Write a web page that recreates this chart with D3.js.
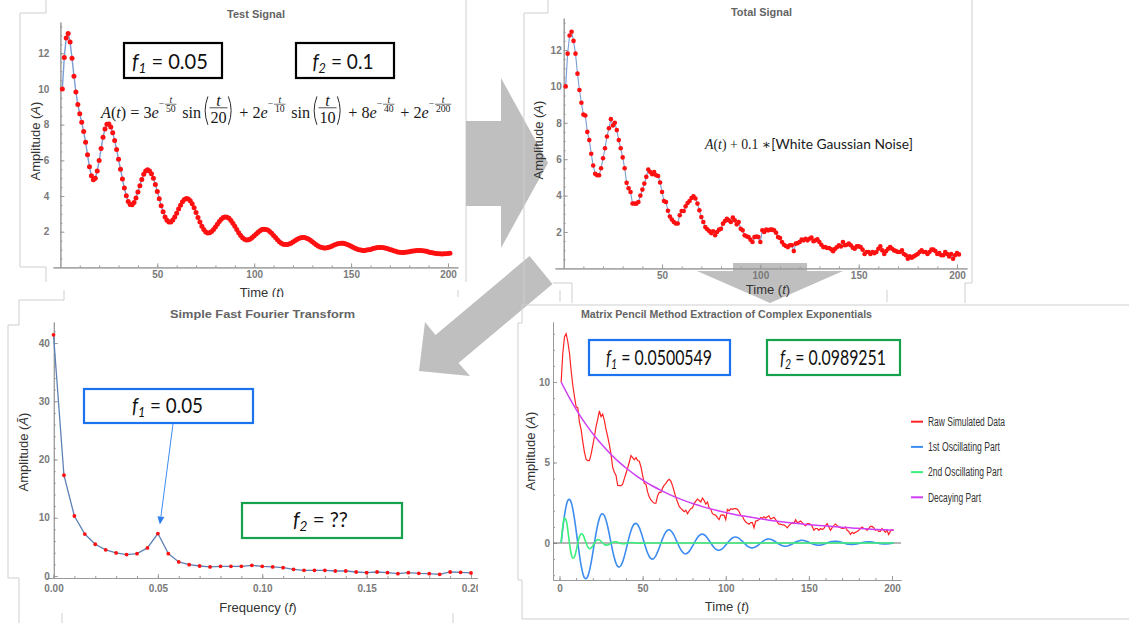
<!DOCTYPE html>
<html>
<head>
<meta charset="utf-8">
<script src="https://cdn.jsdelivr.net/npm/d3@7"></script>
<style>
  body { margin: 0; background: #fff; }
  svg { display: block; }
</style>
</head>
<body>
<script>
// ---------- data ----------
// test signal A(t), t = 0..200
var testSignal = [10.00,11.77,12.86,13.11,12.64,11.72,10.72,9.83,9.13,8.61,
  8.13,7.62,7.01,6.31,5.64,5.13,4.91,5.00,5.40,5.99,
  6.66,7.29,7.76,8.02,8.04,7.87,7.55,7.11,6.61,6.06,
  5.50,4.96,4.45,4.02,3.70,3.52,3.51,3.64,3.89,4.22,
  4.58,4.93,5.22,5.40,5.47,5.41,5.25,4.99,4.65,4.26,
  3.85,3.46,3.12,2.83,2.64,2.54,2.55,2.65,2.82,3.03,
  3.27,3.49,3.68,3.81,3.86,3.84,3.74,3.57,3.34,3.08,
  2.80,2.54,2.30,2.12,1.99,1.93,1.94,2.01,2.12,2.27,
  2.42,2.57,2.70,2.79,2.83,2.81,2.75,2.63,2.48,2.30,
  2.12,1.94,1.79,1.66,1.58,1.54,1.55,1.59,1.67,1.77,
  1.87,1.97,2.06,2.12,2.14,2.13,2.09,2.01,1.91,1.79,
  1.67,1.55,1.44,1.36,1.30,1.28,1.28,1.31,1.36,1.43,
  1.50,1.56,1.62,1.66,1.68,1.67,1.64,1.59,1.52,1.44,
  1.35,1.27,1.20,1.15,1.11,1.09,1.09,1.11,1.15,1.19,
  1.24,1.28,1.32,1.34,1.35,1.35,1.33,1.29,1.24,1.19,
  1.13,1.08,1.03,0.99,0.97,0.95,0.95,0.97,0.99,1.01,
  1.05,1.07,1.10,1.12,1.12,1.12,1.10,1.08,1.05,1.01,
  0.97,0.93,0.90,0.87,0.85,0.84,0.84,0.85,0.87,0.88,
  0.90,0.92,0.94,0.95,0.95,0.95,0.93,0.92,0.90,0.87,
  0.84,0.82,0.79,0.78,0.76,0.76,0.75,0.76,0.77,0.78,
  0.79];

// total signal (with noise), t = 0..200
var noisySignal = [10.0,11.8,12.8,13.0,12.5,11.8,10.7,9.8,9.1,8.45,
  8.4,7.5,7.05,6.3,5.65,5.2,5.12,5.12,5.5,6.05,
  6.6,7.25,7.7,8.2,7.85,8.0,7.6,7.05,6.6,6.1,
  5.5,4.7,4.4,4.2,3.57,3.56,3.56,3.65,4.0,4.33,
  4.66,5.03,5.43,5.3,5.17,5.3,5.12,5.08,4.72,4.2,
  3.7,3.65,3.17,2.85,2.68,2.55,2.47,2.47,2.92,3.15,
  3.15,3.41,3.59,3.7,3.87,3.96,3.84,3.56,3.19,2.82,
  2.55,2.27,2.15,2.05,1.94,2.04,1.82,2.0,2.13,2.18,
  2.46,2.6,2.73,2.64,2.55,2.79,2.64,2.42,2.55,2.18,
  2.09,1.82,1.76,1.72,1.58,1.45,1.72,1.75,1.72,1.45,
  2.09,2.0,2.13,2.09,2.13,2.13,2.09,1.96,1.72,1.67,
  1.45,1.3,1.23,1.17,1.27,1.27,0.95,1.36,1.39,1.45,
  1.58,1.54,1.63,1.54,1.63,1.69,1.49,1.54,1.6,1.45,
  1.3,1.17,1.17,1.12,1.12,1.05,0.94,1.08,1.17,1.27,
  1.2,1.45,1.27,1.3,1.36,1.27,1.14,1.08,1.21,1.21,
  1.17,1.03,0.79,0.9,0.9,0.79,0.9,0.84,0.9,1.08,
  1.21,0.99,0.79,0.95,1.08,1.17,1.08,0.99,0.95,0.9,
  0.9,0.99,0.79,0.72,0.53,0.66,0.59,0.66,0.72,0.79,
  0.9,0.99,0.9,0.9,0.79,0.9,1.03,1.03,0.95,0.79,
  0.84,0.72,0.72,0.9,0.79,0.66,0.79,0.53,0.72,0.84,
  0.77];

// FFT amplitude, f = 0, 0.005, ... 0.2
var fftStep = 0.005;
var fftAmp = [41.4,17.3,10.3,7.2,5.45,4.5,3.96,3.67,3.84,4.82,
  7.29,3.84,2.41,1.95,1.72,1.55,1.66,1.66,1.66,1.84,
  1.66,1.55,1.43,1.15,0.98,0.98,0.98,0.86,0.86,0.69,
  0.57,0.69,0.57,0.4,0.57,0.46,0.4,0.29,0.69,0.63,
  0.52];

// matrix pencil components
var decayStep = 5;   // decaying part, t = 0, 5, ... 200
var decayPart = [10.00,9.01,8.13,7.35,6.66,6.05,5.50,5.01,4.58,4.19,
  3.85,3.54,3.27,3.02,2.80,2.60,2.42,2.26,2.12,1.99,
  1.87,1.76,1.67,1.58,1.50,1.42,1.35,1.29,1.24,1.18,
  1.13,1.09,1.05,1.01,0.97,0.93,0.90,0.87,0.84,0.82,
  0.79];
// 1st oscillating part, t = 0..200
var osc1Part = [0,0.91,1.70,2.29,2.64,2.71,2.53,2.11,1.50,0.77,
  0,-0.74,-1.39,-1.87,-2.16,-2.22,-2.07,-1.73,-1.23,-0.63,
  0,0.61,1.14,1.53,1.77,1.82,1.70,1.41,1.01,0.52,
  0,-0.50,-0.93,-1.26,-1.45,-1.49,-1.39,-1.16,-0.83,-0.43,
  0,0.41,0.76,1.03,1.18,1.22,1.14,0.95,0.68,0.35,
  0,-0.33,-0.62,-0.84,-0.97,-1.00,-0.93,-0.78,-0.55,-0.29,
  0,0.27,0.51,0.69,0.79,0.82,0.76,0.64,0.45,0.23,
  0,-0.22,-0.42,-0.56,-0.65,-0.67,-0.62,-0.52,-0.37,-0.19,
  0,0.18,0.34,0.46,0.53,0.55,0.51,0.43,0.30,0.16,
  0,-0.15,-0.28,-0.38,-0.44,-0.45,-0.42,-0.35,-0.25,-0.13,
  0,0.12,0.23,0.31,0.36,0.37,0.34,0.29,0.20,0.11,
  0,-0.10,-0.19,-0.25,-0.29,-0.30,-0.28,-0.23,-0.17,-0.09,
  0,0.08,0.15,0.21,0.24,0.25,0.23,0.19,0.14,0.07,
  0,-0.07,-0.13,-0.17,-0.20,-0.20,-0.19,-0.16,-0.11,-0.06,
  0,0.06,0.10,0.14,0.16,0.17,0.15,0.13,0.09,0.05,
  0,-0.05,-0.08,-0.11,-0.13,-0.14,-0.13,-0.11,-0.08,-0.04,
  0,0.04,0.07,0.09,0.11,0.11,0.10,0.09,0.06,0.03,
  0,-0.03,-0.06,-0.08,-0.09,-0.09,-0.08,-0.07,-0.05,-0.03,
  0,0.03,0.05,0.06,0.07,0.07,0.07,0.06,0.04,0.02,
  0,-0.02,-0.04,-0.05,-0.06,-0.06,-0.06,-0.05,-0.03,-0.02,
  0];
// 2nd oscillating part, t = 0..50, flat zero afterwards up to osc2End
var osc2Part = [0,1.06,1.56,1.41,0.79,0,-0.65,-0.95,-0.86,-0.48,
  0,0.39,0.57,0.52,0.29,0,-0.24,-0.35,-0.31,-0.18,
  0,0.14,0.21,0.19,0.11,0,-0.09,-0.13,-0.12,-0.07,
  0,0.05,0.08,0.07,0.04,0,-0.03,-0.05,-0.04,-0.02,
  0,0.02,0.03,0.03,0.01,0,-0.01,-0.02,-0.02,-0.01,
  0];
var osc2End = 200;

var timeTicks = [50, 100, 150, 200];
var timeTicksMpm = [0, 50, 100, 150, 200];
var ampTicks = [2, 4, 6, 8, 10, 12];
var fftTicksX = [0, 0.05, 0.1, 0.15, 0.2];
var fftTicksY = [0, 10, 20, 30, 40];
var mpmTicksY = [0, 5, 10];
var legendNames = ["Raw Simulated Data", "1st Oscillating Part", "2nd Oscillating Part", "Decaying Part"];
var legendColors = ["#ff2323", "#3d8cf0", "#3cf07c", "#cf3ef5"];
var freqTrue = ["0.05", "0.1"];
var freqFft = ["0.05", "??"];
var freqMpm = ["0.0500549", "0.0989251"];

// ---------- setup ----------
var sans = "'Liberation Sans', Arial, sans-serif";
var serif = "'Liberation Serif', 'DejaVu Serif', serif";
var boxFont = "Lato, 'Open Sans', sans-serif";
var axisGray = "#9a9a9a", tickGray = "#7a7a7a", frameGray = "#cfcfcf", arrowGray = "#bfbfbf";
var dotRed = "#ff1010", lineBlue = "#7a9dd4";
var blueBox = "#1d72f0", greenBox = "#16a24c";

var svg = d3.select("body").append("svg").attr("width", 1129).attr("height", 623);

function frames(paths) {
  paths.forEach(function (p) {
    svg.append("path").attr("d", p).attr("fill", "none").attr("stroke", frameGray).attr("stroke-width", 1);
  });
}

function axes(g, o) {
  var xa = o.x.copy().domain([o.x.invert(o.xr[0]), o.x.invert(o.xr[1])]).range(o.xr);
  var ya = o.y.copy().domain([o.y.invert(o.yr[0]), o.y.invert(o.yr[1])]).range(o.yr);
  function look(sel) {
    sel.select(".domain").attr("stroke", axisGray);
    sel.selectAll(".tick line").attr("stroke", axisGray);
    sel.selectAll("text").attr("fill", tickGray).attr("font-weight", "bold")
      .attr("font-family", sans).attr("font-size", 10);
  }
  g.append("g").attr("transform", "translate(0," + o.xAt + ")")
    .call(d3.axisBottom(xa).tickValues(o.xMinor).tickSize(-2).tickSizeOuter(0).tickFormat(""))
    .call(look);
  g.append("g").attr("transform", "translate(0," + o.xAt + ")")
    .call(d3.axisBottom(xa).tickValues(o.xTicks).tickSize(-4).tickSizeOuter(0)
      .tickPadding(o.xPad).tickFormat(o.xFmt || d3.format("d")))
    .call(look);
  g.append("g").attr("transform", "translate(" + o.yAt + ",0)")
    .call(d3.axisLeft(ya).tickValues(o.yMinor).tickSize(-2).tickSizeOuter(0).tickFormat(""))
    .call(look);
  g.append("g").attr("transform", "translate(" + o.yAt + ",0)")
    .call(d3.axisLeft(ya).tickValues(o.yTicks).tickSize(-4).tickSizeOuter(0)
      .tickPadding(o.yPad).tickFormat(d3.format("d")))
    .call(look);
}

function title(g, txt, cx, y, w) {
  g.append("text").attr("x", cx - w / 2).attr("y", y).attr("font-family", sans)
    .attr("font-weight", "bold").attr("font-size", 11.5).attr("fill", "#646464")
    .attr("textLength", w).attr("lengthAdjust", "spacingAndGlyphs").text(txt);
}

function label(g, before, ital, cx, cy, rotate) {
  var t = g.append("text").attr("font-family", sans).attr("font-size", 13).attr("fill", "#333")
    .attr("text-anchor", "middle");
  t.append("tspan").text(before + "(");
  t.append("tspan").attr("font-style", "italic").text(ital);
  t.append("tspan").text(")");
  if (rotate) t.attr("transform", "translate(" + (cx + 5) + "," + cy + ") rotate(-90)");
  else t.attr("x", cx).attr("y", cy);
}

function fBox(g, b) {
  g.append("rect").attr("x", b.x).attr("y", b.y).attr("width", b.w).attr("height", b.h)
    .attr("fill", "none").attr("stroke", b.c).attr("stroke-width", 2.2);
  var t = g.append("text").attr("font-family", boxFont).attr("font-size", 21).attr("fill", "#111");
  t.append("tspan").attr("font-style", "italic").text("f");
  t.append("tspan").attr("font-style", "italic").attr("font-size", 14).attr("dy", 4).text(b.sub);
  t.append("tspan").attr("dy", -4).text("\u00a0=\u00a0" + b.val);
  var len = t.node().getComputedTextLength();
  t.attr("transform", "translate(" + (b.cx - b.tw / 2) + "," + b.base + ") scale(" + (b.tw / len) + ",1)");
}

// small typesetter for the formula lines
function mathLine(g, parts, S) {
  var x = 0;
  function txt(s, xx, y, size, it, fam) {
    var t = g.append("text").attr("x", xx).attr("y", y).attr("font-size", size)
      .attr("font-family", fam || serif).attr("fill", "#1a1a1a").text(s);
    if (it) t.attr("font-style", "italic");
    return t;
  }
  function w(t) { return t.node().getComputedTextLength(); }
  parts.forEach(function (p) {
    if (p.t != null) {
      x += w(txt(p.t, x, 0, S, p.i, p.f));
    } else if (p.sup) {
      var s = S * 0.6, bar = -S * 0.82;
      x += w(txt("\u2212", x, bar + s * 0.3, s)) + 1;
      var n = txt(p.sup[0], 0, bar - 1.5, s, true), d = txt(p.sup[1], 0, bar + s * 0.8, s);
      var fw = Math.max(w(n), w(d)) + 2;
      n.attr("x", x + fw / 2).attr("text-anchor", "middle");
      d.attr("x", x + fw / 2).attr("text-anchor", "middle");
      g.append("line").attr("x1", x).attr("x2", x + fw).attr("y1", bar).attr("y2", bar)
        .attr("stroke", "#1a1a1a").attr("stroke-width", 0.7);
      x += fw + 2;
    } else if (p.frac) {
      var b2 = -S * 0.6, top = b2 - S * 0.7, bot = b2 + S * 1.05, mid = (top + bot) / 2;
      x += 3;
      g.append("path").attr("d", "M" + (x + 5) + "," + top + "Q" + (x - 1.5) + "," + mid + " " + (x + 5) + "," + bot)
        .attr("fill", "none").attr("stroke", "#1a1a1a").attr("stroke-width", 1.1);
      x += 7;
      var n2 = txt(p.frac[0], 0, b2 - 2.5, S, true), d2 = txt(p.frac[1], 0, b2 + S * 0.92, S);
      var fw2 = Math.max(w(n2), w(d2)) + 2;
      n2.attr("x", x + fw2 / 2).attr("text-anchor", "middle");
      d2.attr("x", x + fw2 / 2).attr("text-anchor", "middle");
      g.append("line").attr("x1", x).attr("x2", x + fw2).attr("y1", b2).attr("y2", b2)
        .attr("stroke", "#1a1a1a").attr("stroke-width", 0.9);
      x += fw2 + 1;
      g.append("path").attr("d", "M" + x + "," + top + "Q" + (x + 6.5) + "," + mid + " " + x + "," + bot)
        .attr("fill", "none").attr("stroke", "#1a1a1a").attr("stroke-width", 1.1);
      x += 8;
    }
  });
  return x;
}
function placeMath(parent, parts, S, x0, x1, base) {
  var g = parent.append("g");
  var len = mathLine(g, parts, S);
  g.attr("transform", "translate(" + x0 + "," + base + ") scale(" + ((x1 - x0) / len) + ")");
}

// ---------- panel 1 : test signal ----------
frames(["M46,0V13H20V267H46V282", "M466,0V282"]);
var p1 = svg.append("g");
var x1 = d3.scaleLinear().domain([0, 200]).range([60.4, 448]);
var y1 = d3.scaleLinear().domain([0, 12]).range([267.4, 53.3]);
axes(p1, { x: x1, y: y1, xr: [53, 458], yr: [267.4, 22], xAt: 267.4, yAt: 60.4,
  xTicks: timeTicks, xMinor: d3.range(10, 201, 10), yTicks: ampTicks, yMinor: d3.range(0.5, 13.6, 0.5),
  xPad: 4, yPad: 11 });
p1.append("path").datum(testSignal)
  .attr("d", d3.line().x(function (d, i) { return x1(i + 1); }).y(function (d) { return y1(d); }))
  .attr("fill", "none").attr("stroke", lineBlue).attr("stroke-width", 1.4);
p1.append("g").selectAll("circle").data(testSignal).join("circle")
  .attr("cx", function (d, i) { return x1(i + 1); })
  .attr("cy", function (d) { return y1(d); })
  .attr("r", 2.5).attr("fill", dotRed);
title(p1, "Test Signal", 256, 18, 58);
label(p1, "Amplitude ", "A", 35, 141, true);
label(p1, "Time ", "t", 262, 297, false);
fBox(p1, { x: 124, y: 43, w: 98, h: 35, c: "#000", sub: "1", val: freqTrue[0], cx: 170, base: 68.5, tw: 76 });
fBox(p1, { x: 296, y: 43, w: 98, h: 35, c: "#000", sub: "2", val: freqTrue[1], cx: 343, base: 68.5, tw: 61 });
placeMath(p1, [{ t: "A", i: 1 }, { t: "(" }, { t: "t", i: 1 }, { t: ")\u00a0=\u00a03" }, { t: "e", i: 1 },
  { sup: ["t", "50"] }, { t: "\u00a0sin" }, { frac: ["t", "20"] }, { t: "\u00a0+\u00a02" }, { t: "e", i: 1 },
  { sup: ["t", "10"] }, { t: "\u00a0sin" }, { frac: ["t", "10"] }, { t: "\u00a0+\u00a08" }, { t: "e", i: 1 },
  { sup: ["t", "40"] }, { t: "\u00a0+\u00a02" }, { t: "e", i: 1 }, { sup: ["t", "200"] }], 19, 101, 453, 117.5);

// panel 3 background hides the bottom of panel 1
svg.append("rect").attr("x", 0).attr("y", 297).attr("width", 482).attr("height", 326).attr("fill", "#fff");

// ---------- arrows ----------
var arrows = [
  [[466, 121], [501, 121], [501, 78], [548, 163], [501, 248], [501, 206], [466, 206]],
  [[733, 263], [807, 263], [807, 271], [843, 271], [770, 303], [697, 271], [733, 271]],
  [[529.5, 256], [552.5, 284], [458.5, 363], [470, 376], [419, 371], [425, 322], [435.5, 335]]
];
arrows.forEach(function (pts) {
  svg.append("polygon").attr("points", pts.map(function (p) { return p.join(","); }).join(" "))
    .attr("fill", arrowGray);
});

frames(["M548,0V13H524V303", "M972,0V283H965V303", "M553,283H572V303",
  "M64,290V300H19V325H8V578H19V623", "M62,613V623", "M453,613V623", "M458,290V297",
  "M1129,305H522V323H518V580H522V619H1129", "M560,290V302", "M887,290V302"]);

// ---------- panel 2 : total signal ----------
var p2 = svg.append("g");
var x2 = d3.scaleLinear().domain([0, 200]).range([563.7, 957]);
var y2 = d3.scaleLinear().domain([0, 12]).range([268.4, 50]);
axes(p2, { x: x2, y: y2, xr: [555, 967], yr: [268.4, 18], xAt: 268.4, yAt: 563.7,
  xTicks: timeTicks, xMinor: d3.range(10, 201, 10), yTicks: ampTicks, yMinor: d3.range(0.5, 13.6, 0.5),
  xPad: 4, yPad: 2 });
p2.append("path").datum(noisySignal)
  .attr("d", d3.line().x(function (d, i) { return x2(i + 1); }).y(function (d) { return y2(d); }))
  .attr("fill", "none").attr("stroke", lineBlue).attr("stroke-width", 1.1);
p2.append("g").selectAll("circle").data(noisySignal).join("circle")
  .attr("cx", function (d, i) { return x2(i + 1); })
  .attr("cy", function (d) { return y2(d); })
  .attr("r", 2.3).attr("fill", dotRed);
title(p2, "Total Signal", 761.5, 16, 61);
label(p2, "Amplitude ", "A", 538, 140, true);
label(p2, "Time ", "t", 768, 294, false);
placeMath(p2, [{ t: "A", i: 1 }, { t: "(" }, { t: "t", i: 1 }, { t: ")\u00a0+\u00a00.1\u00a0\u2217" },
  { t: "[White Gaussian Noise]", f: boxFont }], 16, 705, 913, 149);

// ---------- panel 3 : FFT ----------
svg.append("clipPath").attr("id", "clip3").append("rect")
  .attr("x", 0).attr("y", 297).attr("width", 478).attr("height", 326);
var p3 = svg.append("g").attr("clip-path", "url(#clip3)");
var x3 = d3.scaleLinear().domain([0, 0.2]).range([53.5, 471]);
var y3 = d3.scaleLinear().domain([0, 40]).range([576, 343]);
axes(p3, { x: x3, y: y3, xr: [47, 490], yr: [578, 322], xAt: 578, yAt: 53.8,
  xTicks: fftTicksX, xMinor: d3.range(0, 0.2001, 0.01), yTicks: fftTicksY, yMinor: d3.range(0, 44, 2),
  xPad: 7, yPad: 4, xFmt: d3.format(".2f") });
p3.append("path").datum(fftAmp)
  .attr("d", d3.line().x(function (d, i) { return x3(i * fftStep); }).y(function (d) { return y3(d); }))
  .attr("fill", "none").attr("stroke", "#5e81b5").attr("stroke-width", 1.3);
p3.append("g").selectAll("circle").data(fftAmp).join("circle")
  .attr("cx", function (d, i) { return x3(i * fftStep); })
  .attr("cy", function (d) { return y3(d); })
  .attr("r", 1.9).attr("fill", dotRed);
title(p3, "Simple Fast Fourier Transform", 262.5, 318, 185);
label(p3, "Amplitude ", "\u00c3", 23, 452, true);
label(p3, "Frequency ", "f", 258, 612, false);
fBox(p3, { x: 84, y: 389, w: 169, h: 34, c: blueBox, sub: "1", val: freqFft[0], cx: 167.5, base: 413, tw: 71 });
fBox(p3, { x: 242, y: 503, w: 160, h: 35, c: greenBox, sub: "2", val: freqFft[1], cx: 320.5, base: 527, tw: 55 });
// pointer from the f1 box to the FFT peak
(function () {
  var ax = 173, ay = 424, tx = x3(fftTicksX[1]) + 2, ty = y3(fftAmp[10]) - 9;
  var dx = tx - ax, dy = ty - ay, L = Math.sqrt(dx * dx + dy * dy), ux = dx / L, uy = dy / L;
  var bx = tx - ux * 8, by = ty - uy * 8;
  p3.append("line").attr("x1", ax).attr("y1", ay).attr("x2", bx).attr("y2", by)
    .attr("stroke", "#3d8cf0").attr("stroke-width", 1);
  p3.append("polygon").attr("points", [[tx, ty], [bx + uy * 3.5, by - ux * 3.5], [bx - uy * 3.5, by + ux * 3.5]]
    .map(function (p) { return p.join(","); }).join(" ")).attr("fill", "#2f7ff0");
})();

// ---------- panel 4 : matrix pencil ----------
var p4 = svg.append("g");
var x4 = d3.scaleLinear().domain([0, 200]).range([559.5, 892]);
var y4 = d3.scaleLinear().domain([0, 10]).range([543, 382]);
axes(p4, { x: x4, y: y4, xr: [553, 901], yr: [580, 322], xAt: 580, yAt: 553,
  xTicks: timeTicksMpm, xMinor: d3.range(0, 201, 10), yTicks: mpmTicksY, yMinor: d3.range(-2, 14, 1),
  xPad: 5, yPad: 3 });
p4.append("line").attr("x1", 553).attr("x2", 901).attr("y1", y4(0)).attr("y2", y4(0))
  .attr("stroke", "#6e6e6e").attr("stroke-width", 1);
var lineT = function (step, curve) {
  return d3.line().curve(curve || d3.curveLinear)
    .x(function (d, i) { return x4(i * step + 1); }).y(function (d) { return y4(d); });
};
p4.append("path").datum(noisySignal).attr("d", lineT(1))
  .attr("fill", "none").attr("stroke", legendColors[0]).attr("stroke-width", 1.2);
p4.append("path").datum(osc1Part).attr("d", lineT(1, d3.curveCatmullRom))
  .attr("fill", "none").attr("stroke", legendColors[1]).attr("stroke-width", 1.6);
p4.append("path").datum(osc2Part).attr("d", lineT(1, d3.curveCatmullRom))
  .attr("fill", "none").attr("stroke", legendColors[2]).attr("stroke-width", 1.6);
p4.append("line").attr("x1", x4(osc2Part.length)).attr("x2", x4(osc2End + 1))
  .attr("y1", y4(0)).attr("y2", y4(0)).attr("stroke", legendColors[2]).attr("stroke-width", 1.6);
p4.append("path").datum(decayPart).attr("d", lineT(decayStep, d3.curveCatmullRom))
  .attr("fill", "none").attr("stroke", legendColors[3]).attr("stroke-width", 1.5);
title(p4, "Matrix Pencil Method Extraction of Complex Exponentials", 726.5, 318, 291);
label(p4, "Amplitude ", "A", 530, 451, true);
label(p4, "Time ", "t", 727, 611, false);
fBox(p4, { x: 589, y: 340, w: 141, h: 35, c: blueBox, sub: "1", val: freqMpm[0], cx: 659, base: 365, tw: 106 });
fBox(p4, { x: 767, y: 340, w: 133, h: 35, c: greenBox, sub: "2", val: freqMpm[1], cx: 833, base: 365, tw: 106 });
var legendWidths = [77, 72, 74, 53];
legendNames.forEach(function (name, i) {
  var yy = 421.7 + i * 25.2;
  p4.append("line").attr("x1", 911).attr("x2", 923).attr("y1", yy).attr("y2", yy)
    .attr("stroke", legendColors[i]).attr("stroke-width", 2);
  p4.append("text").attr("x", 928).attr("y", yy + 4.3).attr("font-family", sans).attr("font-size", 12.5)
    .attr("fill", "#333").attr("textLength", legendWidths[i]).attr("lengthAdjust", "spacingAndGlyphs").text(name);
});
</script>
</body>
</html>
